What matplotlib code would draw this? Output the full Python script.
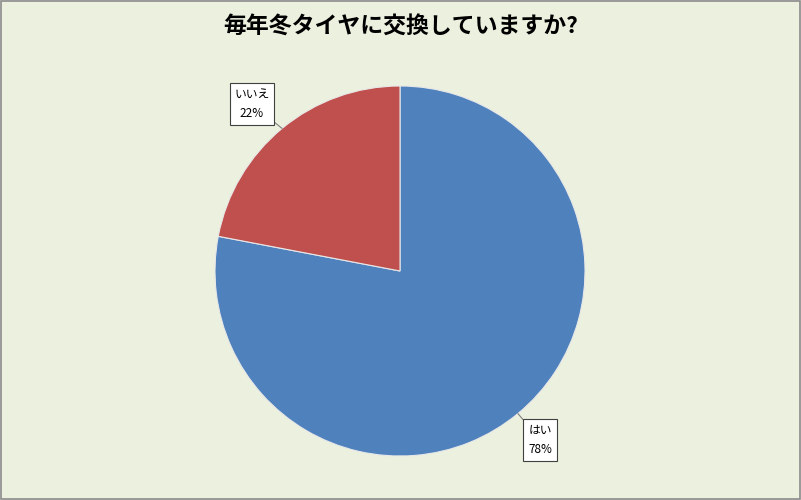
import matplotlib
matplotlib.use("Agg")
import matplotlib.pyplot as plt
import numpy as np
from matplotlib.patches import Rectangle

plt.rcParams['font.family'] = ['Noto Sans CJK JP', 'DejaVu Sans']

title = "毎年冬タイヤに交換していますか?"
labels = ["はい", "いいえ"]
values = [78, 22]
colors = ["#4F81BD", "#C0504D"]
# label box positions (data units, pie radius = 1)
label_pos = [(0.757, -0.914), (-0.80, 0.903)]

W, H = 801, 500
fig = plt.figure(figsize=(W / 100, H / 100), dpi=100)
fig.patch.set_facecolor("#EBF1DE")
ax = fig.add_axes([0, 0, 1, 1])
ax.set_facecolor("#EBF1DE")

# pie center at (400, 271) px from top-left, radius 185 px
r = 185.0
cx, cy = 400.0, 271.0

wedges, _ = ax.pie(values, colors=colors, startangle=90, counterclock=False,
                   radius=1, center=(0, 0), frame=True,
                   wedgeprops=dict(edgecolor="#E8E8E8", linewidth=0.8))
ax.set_xlim(-cx / r, (W - cx) / r)
ax.set_ylim(-(H - cy) / r, cy / r)
ax.set_aspect("auto")
ax.axis("off")

total = sum(values)
for w, lab, v, pos in zip(wedges, labels, values, label_pos):
    mid = np.deg2rad((w.theta1 + w.theta2) / 2)
    anchor = (np.cos(mid), np.sin(mid))
    ax.annotate(f"{lab}\n{round(100 * v / total)}%", xy=anchor, xytext=pos,
                ha="center", va="center", fontsize=8.5, linespacing=1.6,
                bbox=dict(boxstyle="square,pad=0.4", fc="white", ec="#404040", lw=0.8),
                arrowprops=dict(arrowstyle="-", color="#808080", lw=0.8,
                                shrinkA=0, shrinkB=0))

fig.text(0.5, 1 - 27 / H, title, ha="center", va="center",
         fontsize=16.5, fontweight="bold", color="black")

fig.patches.append(Rectangle((0.001, 0.002), 0.998, 0.996, transform=fig.transFigure,
                             fill=False, ec="#8C8C8C", lw=1.2))

fig.savefig("out.png", dpi=100, facecolor=fig.get_facecolor())
